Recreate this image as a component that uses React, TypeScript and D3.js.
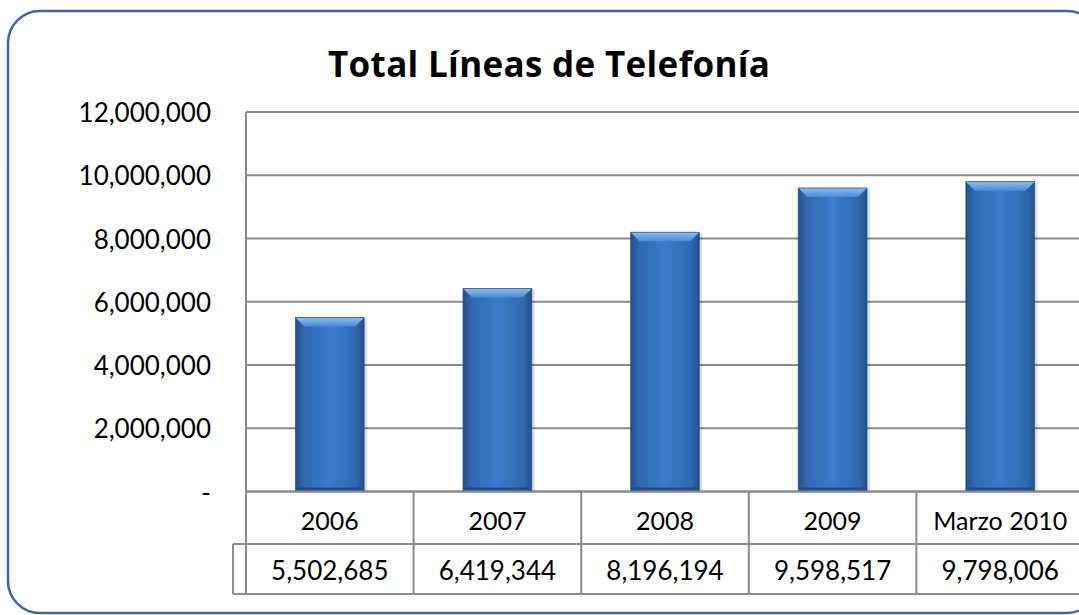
import { useEffect, useRef } from "react";
import * as d3 from "d3";

const CATEGORIES = ["2006", "2007", "2008", "2009", "Marzo 2010"];
const VALUES = [5502685, 6419344, 8196194, 9598517, 9798006];
const Y_TICKS = [0, 2000000, 4000000, 6000000, 8000000, 10000000, 12000000];

const W = 1079, H = 615;
const FONT = "Lato, 'Open Sans', sans-serif";
const GRID = "#8c8c8c";

export default function App() {
  const ref = useRef<SVGSVGElement>(null);
  useEffect(() => {
    const el = ref.current;
    if (!el) return;
    const svg = d3.select(el);
    svg.selectAll("*").remove();

    const M = { left: 246, right: 1084, top: 112, bottom: 491.5 };
    const row1 = 544, row2 = 594;

    const defs = svg.append("defs");
    const g1 = defs.append("linearGradient").attr("id", "barBody").attr("x1", 0).attr("x2", 1).attr("y1", 0).attr("y2", 0);
    [["0%", "#24508c"], ["12%", "#3068b0"], ["50%", "#3b7ccc"], ["88%", "#3068b0"], ["100%", "#24508c"]].forEach(([o, c]) =>
      g1.append("stop").attr("offset", o).attr("stop-color", c));
    const g2 = defs.append("linearGradient").attr("id", "barTop").attr("x1", 0).attr("x2", 0).attr("y1", 0).attr("y2", 1);
    [["0%", "#8ec0f0"], ["100%", "#4a8ad6"]].forEach(([o, c]) => g2.append("stop").attr("offset", o).attr("stop-color", c));

    // chart frame (right side runs off the page)
    svg.append("rect").attr("x", 8).attr("y", 11).attr("width", 1091).attr("height", 602).attr("rx", 32)
      .attr("fill", "#fff").attr("stroke", "#41679e").attr("stroke-width", 2.5);

    svg.append("text").attr("x", 549).attr("y", 77).attr("text-anchor", "middle").attr("font-family", "'Open Sans', sans-serif")
      .attr("font-weight", 700).attr("font-size", 35).attr("textLength", 442).attr("lengthAdjust", "spacing")
      .attr("fill", "#000").text("Total Líneas de Telefonía");

    const x = d3.scaleBand<string>().domain(CATEGORIES).range([M.left, M.right]).padding(0);
    const y = d3.scaleLinear().domain([0, 12000000]).range([M.bottom, M.top]);
    const fmt = d3.format(",");

    // gridlines + y labels
    Y_TICKS.forEach((t) => {
      svg.append("line").attr("x1", M.left).attr("x2", W + 10).attr("y1", y(t)).attr("y2", y(t))
        .attr("stroke", GRID).attr("stroke-width", 2);
      svg.append("text").attr("x", 211).attr("y", y(t) + 10).attr("text-anchor", "end").attr("font-family", FONT)
        .attr("font-size", 26).attr("fill", "#000").text(t === 0 ? "-" : fmt(t));
    });
    svg.append("line").attr("x1", M.left).attr("x2", M.left).attr("y1", M.top).attr("y2", row2).attr("stroke", GRID).attr("stroke-width", 2);

    // bars
    const bw = x.bandwidth() * 0.41;
    const bev = 9;
    CATEGORIES.forEach((c, i) => {
      const cx = (x(c) ?? 0) + x.bandwidth() / 2;
      const x0 = cx - bw / 2, x1 = cx + bw / 2;
      const top = y(VALUES[i]), bot = y(0);
      svg.append("rect").attr("x", x0 + 1).attr("y", top + 1).attr("width", bw + 2).attr("height", bot - top)
        .attr("fill", "#000").attr("opacity", 0.12);
      svg.append("rect").attr("x", x0).attr("y", top).attr("width", bw).attr("height", bot - top).attr("fill", "url(#barBody)");
      svg.append("path").attr("d", `M${x0},${top}L${x1},${top}L${x1 - bev},${top + bev}L${x0 + bev},${top + bev}Z`).attr("fill", "url(#barTop)");
      svg.append("path").attr("d", `M${x0},${bot}L${x1},${bot}L${x1 - 4},${bot - 4}L${x0 + 4},${bot - 4}Z`).attr("fill", "#1f467c").attr("opacity", 0.8);
      svg.append("rect").attr("x", x0).attr("y", top).attr("width", bw).attr("height", bot - top)
        .attr("fill", "none").attr("stroke", "#1f4a85").attr("stroke-width", 1).attr("opacity", 0.7);
    });
    // redraw baseline over bars
    svg.append("line").attr("x1", M.left).attr("x2", W + 10).attr("y1", y(0)).attr("y2", y(0)).attr("stroke", GRID).attr("stroke-width", 2);

    // data table
    svg.append("line").attr("x1", 233).attr("x2", W + 10).attr("y1", row1).attr("y2", row1).attr("stroke", GRID).attr("stroke-width", 2);
    svg.append("line").attr("x1", 233).attr("x2", W + 10).attr("y1", row2).attr("y2", row2).attr("stroke", GRID).attr("stroke-width", 2);
    svg.append("line").attr("x1", 233).attr("x2", 233).attr("y1", row1).attr("y2", row2).attr("stroke", GRID).attr("stroke-width", 2);
    CATEGORIES.forEach((c, i) => {
      const bx = x(c) ?? 0;
      const cx = bx + x.bandwidth() / 2;
      if (i > 0) svg.append("line").attr("x1", bx).attr("x2", bx).attr("y1", M.bottom).attr("y2", row2).attr("stroke", GRID).attr("stroke-width", 2);
      svg.append("text").attr("x", cx).attr("y", 529.5).attr("text-anchor", "middle").attr("font-family", FONT)
        .attr("font-size", 25).attr("fill", "#000").text(c);
      svg.append("text").attr("x", cx).attr("y", 580).attr("text-anchor", "middle").attr("font-family", FONT)
        .attr("font-size", 26).attr("fill", "#000").text(fmt(VALUES[i]));
    });
  }, []);
  return (
    <svg ref={ref} width={W} height={H} viewBox={`0 0 ${W} ${H}`}
      style={{ position: "absolute", left: 0, top: 0, display: "block", background: "#fff" }} />
  );
}
